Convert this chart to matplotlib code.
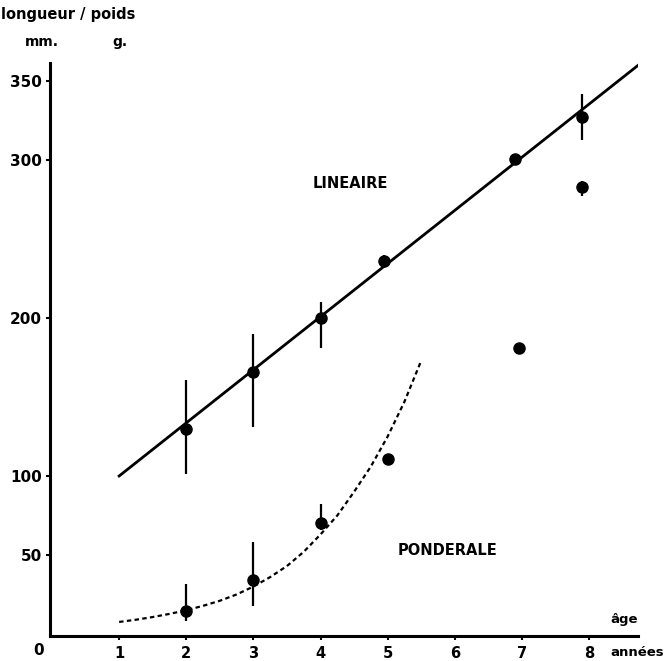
import matplotlib
matplotlib.use("Agg")
import matplotlib.pyplot as plt

# longueur (mm) par âge
age_long = [2, 3, 4, 4.95, 6.9, 7.9]
longueur = [130, 166, 200, 236, 301, 327]
long_err_lo = [29, 35, 19, 4, 0, 14]
long_err_hi = [31, 24, 10, 4, 0, 15]

# droite de croissance linéaire
droite_x = [1, 8.73]
droite_y = [100, 360]

# poids (g) par âge
age_poids = [2, 3, 4, 5, 6.95, 7.9]
poids = [14.5, 34, 70, 111, 181, 283]
poids_err_lo = [6, 16, 4, 0, 0, 6]
poids_err_hi = [17, 24, 12, 0, 0, 4]

# courbe pondérale (pointillés)
courbe_x = [1, 1.25, 1.5, 1.75, 2, 2.25, 2.5, 2.75, 3, 3.25, 3.5, 3.75,
            4, 4.25, 4.5, 4.75, 5, 5.25, 5.5]
courbe_y = [7.6, 9, 10.7, 12.7, 15, 17.8, 21, 25, 30, 36, 43, 52,
            63, 75, 90, 106, 125, 147, 173]

x_ticks = [1, 2, 3, 4, 5, 6, 7, 8]
y_ticks = [50, 100, 200, 300, 350]

plt.rcParams['font.family'] = ['DejaVu Sans']
plt.rcParams['font.weight'] = 'bold'

fig = plt.figure(figsize=(6.69, 6.61), dpi=100)
ax = fig.add_axes([50 / 669, 25 / 661, 588 / 669, 573 / 661])

ax.plot(droite_x, droite_y, color='black', linewidth=2)
ax.errorbar(age_long, longueur, yerr=[long_err_lo, long_err_hi], fmt='o',
            color='black', markersize=8, elinewidth=1.6, capsize=0)

ax.plot(courbe_x, courbe_y, color='black', linewidth=1.6, linestyle=(0, (2, 1.5)))
ax.errorbar(age_poids, poids, yerr=[poids_err_lo, poids_err_hi], fmt='o',
            color='black', markersize=8, elinewidth=1.6, capsize=0)

ax.set_xlim(-0.03, 8.73)
ax.set_ylim(-1.3, 361.5)
ax.spines['top'].set_visible(False)
ax.spines['right'].set_visible(False)
ax.spines['left'].set_linewidth(2.2)
ax.spines['bottom'].set_linewidth(2.2)

ax.set_xticks(x_ticks)
ax.set_xticklabels([str(v) for v in x_ticks], fontsize=10.5, fontweight='bold')
ax.set_yticks(y_ticks)
ax.set_yticklabels([str(v) for v in y_ticks], fontsize=11, fontweight='bold')
ax.tick_params(axis='both', length=3, width=1.5, pad=3)
ax.tick_params(axis='x', pad=4)

ax.text(-0.2, -6, '0', transform=ax.transData, fontsize=11, fontweight='bold',
        ha='center', va='top', clip_on=False)
ax.text(4.44, 285, 'LINEAIRE', fontsize=10.5, fontweight='bold', ha='center', va='center')
ax.text(5.89, 53, 'PONDERALE', fontsize=10.5, fontweight='bold', ha='center', va='center')
fig.text(610 / 669, 1 - 620 / 661, 'âge', fontsize=9.5, fontweight='bold', va='center')
fig.text(610 / 669, 1 - 652 / 661, 'années', fontsize=9.5, fontweight='bold', va='center')
fig.text(1 / 669, 1 - 14 / 661, 'longueur / poids', fontsize=10.5, fontweight='bold', va='center')
fig.text(25 / 669, 1 - 42 / 661, 'mm.', fontsize=10, fontweight='bold', va='center')
fig.text(112 / 669, 1 - 42 / 661, 'g.', fontsize=10, fontweight='bold', va='center')

fig.savefig('out.png', dpi=100)
